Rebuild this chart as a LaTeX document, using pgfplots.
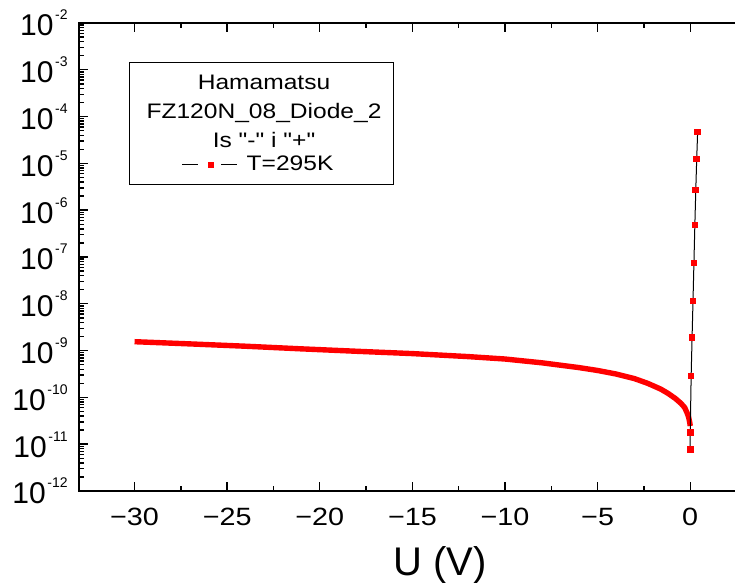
\documentclass[border=0pt]{standalone}
\usepackage{fontspec}
\setmainfont{Liberation Sans}
\newfontfamily\legfont{Liberation Sans}[FakeStretch=1.17]
\newfontfamily\xtfont{Liberation Sans}[FakeStretch=1.15]
\usepackage{pgfplots}
\pgfplotsset{compat=1.18}

% 10^n label in text font, exponent raised like the original
\newcommand{\E}[1]{10\hspace{0.8pt}\raisebox{8pt}{\fontsize{7}{8}\selectfont #1}}

\pgfplotstableread{
x y
-30 1.55e-9
-27 1.39e-9
-24 1.24e-9
-21 1.09e-9
-18 9.67e-10
-15 8.63e-10
-12 7.45e-10
-10 6.61e-10
-8 5.48e-10
-6 4.33e-10
-5 3.76e-10
-4 3.16e-10
-3 2.51e-10
-2.3 2.00e-10
-1.6 1.51e-10
-1.2 1.22e-10
-0.8 9.46e-11
-0.5 7.46e-11
-0.3 6.08e-11
-0.16 4.57e-11
-0.08 3.72e-11
-0.02 2.80e-11
0 2.45e-11
}\reverse

\pgfplotstableread{
x y
0 7.8e-12
0 1.76e-11
0.05 2.86e-10
0.1 1.89e-9
0.15 1.15e-8
0.2 7.45e-8
0.25 4.83e-7
0.3 2.70e-6
0.35 1.24e-5
0.4 4.69e-5
}\forward

\begin{document}
\begin{tikzpicture}
\useasboundingbox (0,0) rectangle (367.5pt,291.5pt);
\begin{axis}[
    at={(39.5pt,46pt)}, anchor=south west,
    scale only axis, width=333.4pt, height=234pt,
    xmin=-33, xmax=3,
    ymode=log, ymin=1e-12, ymax=1e-2,
    axis line style={line width=0.8pt},
    every tick/.style={black, line width=0.7pt},
    major tick length=4.5pt, minor tick length=2.5pt,
    tick align=inside,
    xtick={-30,-25,-20,-15,-10,-5,0},
    xticklabels={−30,−25,−20,−15,−10,−5,0},
    minor x tick num=1,
    xtick pos=both, xticklabel pos=lower,
    xticklabel style={font=\xtfont\fontsize{12.5}{14}\selectfont, anchor=base, inner sep=0pt, yshift=-17.5pt},
    ytick={1e-12,1e-11,1e-10,1e-9,1e-8,1e-7,1e-6,1e-5,1e-4,1e-3,1e-2},
    yticklabels={\E{-12},\E{-11},\E{-10},\E{-9},\E{-8},\E{-7},\E{-6},\E{-5},\E{-4},\E{-3},\E{-2}},
    minor ytick={2e-12,3e-12,4e-12,5e-12,6e-12,7e-12,8e-12,9e-12,
                 2e-11,3e-11,4e-11,5e-11,6e-11,7e-11,8e-11,9e-11,
                 2e-10,3e-10,4e-10,5e-10,6e-10,7e-10,8e-10,9e-10,
                 2e-9,3e-9,4e-9,5e-9,6e-9,7e-9,8e-9,9e-9,
                 2e-8,3e-8,4e-8,5e-8,6e-8,7e-8,8e-8,9e-8,
                 2e-7,3e-7,4e-7,5e-7,6e-7,7e-7,8e-7,9e-7,
                 2e-6,3e-6,4e-6,5e-6,6e-6,7e-6,8e-6,9e-6,
                 2e-5,3e-5,4e-5,5e-5,6e-5,7e-5,8e-5,9e-5,
                 2e-4,3e-4,4e-4,5e-4,6e-4,7e-4,8e-4,9e-4,
                 2e-3,3e-3,4e-3,5e-3,6e-3,7e-3,8e-3,9e-3},
    yticklabel style={font=\fontsize{15}{17}\selectfont, anchor=base east, inner sep=0pt, xshift=-5.5pt, yshift=-6.5pt},
    xlabel={U (V)},
    xlabel style={at={(axis description cs:0.541,-0.1816)}, anchor=base, inner sep=0pt, font=\fontsize{20}{24}\selectfont},
    legend style={at={(axis description cs:0.154,0.6966)}, anchor=west, draw=none, fill=none,
        inner sep=0pt, outer sep=0pt, nodes={inner sep=0pt}, column sep=0pt,
        font=\legfont\fontsize{10.5}{12}\selectfont},
    legend image code/.code={
        \draw[black, line width=0.5pt] (0pt,0pt) -- (7.8pt,0pt);
        \fill[red] (13.1pt,-1.3pt) rectangle (15.7pt,1.3pt);
        \draw[black, line width=0.5pt] (19.5pt,0pt) -- (27.5pt,0pt);
    },
]
\addplot[red, line width=2.7pt, line join=round, forget plot] table[x=x, y=y] {\reverse};
\addplot[black, line width=0.5pt, mark=square*, mark size=1.4pt, mark options={fill=red, draw=red}]
    table[x=x, y=y] {\forward};
\addlegendentry{\hspace{4.5pt}T=295K}

\draw[line width=0.5pt] (axis description cs:0.075,0.655) rectangle (axis description cs:0.471,0.916);
\node[font=\legfont\fontsize{10.5}{12}\selectfont, anchor=base, inner sep=0pt] at (axis description cs:0.2775,0.857) {Hamamatsu};
\node[font=\legfont\fontsize{10.5}{12}\selectfont, anchor=base, inner sep=0pt] at (axis description cs:0.2775,0.797) {FZ120N\_08\_Diode\_2};
\node[font=\legfont\fontsize{10.5}{12}\selectfont, anchor=base, inner sep=0pt] at (axis description cs:0.2775,0.735) {Is "-" i "+"};
\end{axis}
\end{tikzpicture}
\end{document}
